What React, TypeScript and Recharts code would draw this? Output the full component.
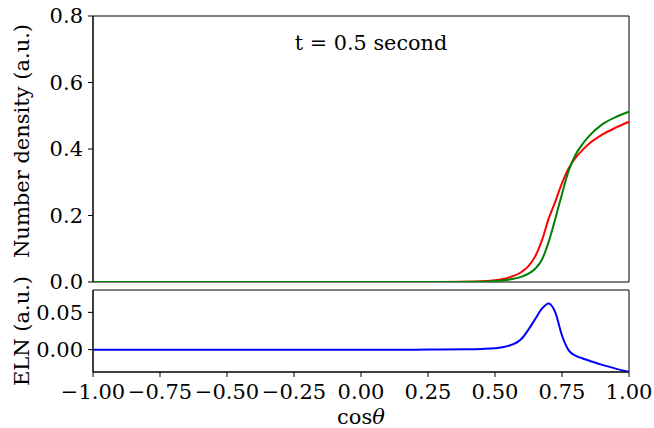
import React from "react";
import { LineChart, Line, XAxis, YAxis, ReferenceArea } from "recharts";

// cos(theta) sample points
const cosTheta = [-1, -0.5, 0, 0.2, 0.3, 0.4, 0.45, 0.5, 0.55, 0.6, 0.625, 0.65, 0.675, 0.7, 0.725, 0.75, 0.775, 0.8, 0.825, 0.85, 0.9, 0.95, 1.0];
// number densities (a.u.)
const densityRed = [0, 0, 0, 0, 0.0003, 0.001, 0.002, 0.005, 0.013, 0.031, 0.048, 0.077, 0.125, 0.19, 0.242, 0.297, 0.342, 0.373, 0.396, 0.415, 0.443, 0.464, 0.482];
const densityGreen = [0, 0, 0, 0, 0.0001, 0.0004, 0.001, 0.003, 0.007, 0.016, 0.025, 0.04, 0.067, 0.12, 0.19, 0.265, 0.335, 0.382, 0.413, 0.438, 0.474, 0.496, 0.512];
// ELN (a.u.)
const eln = [0, 0, 0, 0, 0.0002, 0.0005, 0.001, 0.002, 0.005, 0.015, 0.027, 0.041, 0.055, 0.062, 0.05, 0.019, -0.001, -0.008, -0.0115, -0.0145, -0.0205, -0.0255, -0.03];

const xTicks = [-1, -0.75, -0.5, -0.25, 0, 0.25, 0.5, 0.75, 1];
const topTicks = [0, 0.2, 0.4, 0.6, 0.8];
const bottomTicks = [0, 0.05];

const data = cosTheta.map((x, i) => ({ x, red: densityRed[i], green: densityGreen[i], eln: eln[i] }));

const FONT = "DejaVu Serif";
const FS = 21;
const LABEL_FS = 21;
const tickStyle = { fill: "#000", fontSize: FS, fontFamily: FONT };
const fmtX = (v: number) => (v < 0 ? "\u2212" : "") + Math.abs(v).toFixed(2);

const yLabel = (text: string, shift: number) => (props: any) => {
  const vb = props.viewBox;
  const cy = vb.y + vb.height / 2 + shift;
  return (
    <text x={22} y={cy} textAnchor="middle" dominantBaseline="central" transform={`rotate(-90, 22, ${cy})`} fontFamily={FONT} fontSize={LABEL_FS} fill="#000">
      {text}
    </text>
  );
};

const xLabel = (props: any) => {
  const vb = props.viewBox;
  return (
    <text x={vb.x + vb.width / 2} y={424} textAnchor="middle" fontFamily={FONT} fontSize={LABEL_FS} fill="#000">
      <tspan>cos</tspan>
      <tspan fontStyle="italic">θ</tspan>
    </text>
  );
};

export default function App() {
  return (
    <div style={{ position: "absolute", left: 0, top: 0, width: 654, height: 428, background: "#fff" }}>
      <div style={{ position: "absolute", left: 0, top: 0 }}>
        <LineChart width={654} height={300} data={data} margin={{ top: 16, right: 25, bottom: 18, left: 0 }}>
          <XAxis dataKey="x" type="number" domain={[-1, 1]} hide />
          <YAxis
            width={93}
            domain={[0, 0.8]}
            ticks={topTicks}
            interval={0}
            allowDataOverflow
            tickFormatter={(v: number) => v.toFixed(1)}
            tick={tickStyle}
            tickSize={5}
            tickMargin={5}
            stroke="#000"
            label={yLabel("Number density (a.u.)", -8)}
          />
          <ReferenceArea x1={-1} x2={1} y1={0} y2={0.8} fill="none" stroke="#000" strokeWidth={1} />
          <Line dataKey="red" type="monotone" stroke="#ff0000" strokeWidth={2} dot={false} isAnimationActive={false} />
          <Line dataKey="green" type="monotone" stroke="#008000" strokeWidth={2} dot={false} isAnimationActive={false} />
        </LineChart>
      </div>
      <div style={{ position: "absolute", left: 0, top: 0 }}>
        <LineChart width={654} height={428} data={data} margin={{ top: 290, right: 25, bottom: 0, left: 0 }}>
          <XAxis
            dataKey="x"
            type="number"
            domain={[-1, 1]}
            ticks={xTicks}
            interval={0}
            tickFormatter={fmtX}
            tick={tickStyle}
            tickSize={5}
            tickMargin={7}
            height={56}
            stroke="#000"
            label={xLabel}
          />
          <YAxis
            width={93}
            domain={[-0.03, 0.08]}
            ticks={bottomTicks}
            interval={0}
            allowDataOverflow
            tickFormatter={(v: number) => v.toFixed(2)}
            tick={tickStyle}
            tickSize={5}
            tickMargin={5}
            stroke="#000"
            label={yLabel("ELN (a.u.)", 0)}
          />
          <ReferenceArea x1={-1} x2={1} y1={-0.03} y2={0.08} fill="none" stroke="#000" strokeWidth={1} />
          <Line dataKey="eln" type="monotone" stroke="#0000ff" strokeWidth={2} dot={false} isAnimationActive={false} />
        </LineChart>
      </div>
      <div style={{ position: "absolute", left: 271, top: 29, width: 200, textAlign: "center", fontFamily: FONT, fontSize: 20.8, lineHeight: "28px", color: "#000" }}>
        t = 0.5 second
      </div>
    </div>
  );
}
